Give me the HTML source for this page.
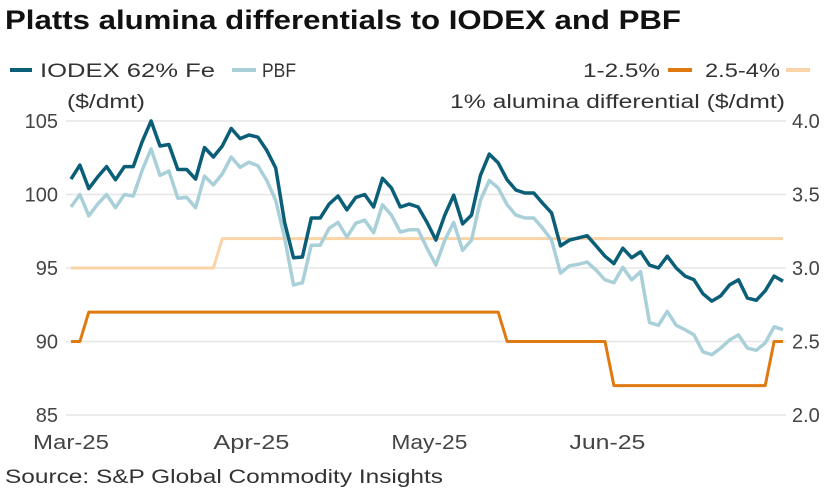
<!DOCTYPE html>
<html><head><meta charset="utf-8"><style>
body{margin:0;background:#fff;width:830px;height:491px;overflow:hidden;font-family:"Liberation Sans",sans-serif;}
svg text{font-family:"Liberation Sans",sans-serif;}
</style></head><body>
<svg id="chart" width="830" height="491">
<text x="5" y="29" font-size="27" font-weight="bold" fill="#111" textLength="676" lengthAdjust="spacingAndGlyphs">Platts alumina differentials to IODEX and PBF</text>
<g>
<line x1="10" y1="70" x2="32" y2="70" stroke="#0b5e78" stroke-width="4"/>
<text x="40" y="77" font-size="19" fill="#333" textLength="175" lengthAdjust="spacingAndGlyphs">IODEX 62% Fe</text>
<line x1="232" y1="70" x2="256" y2="70" stroke="#a9d0d9" stroke-width="4"/>
<text x="262" y="77" font-size="19" fill="#333" textLength="34" lengthAdjust="spacingAndGlyphs">PBF</text>
<text x="583" y="77" font-size="19" fill="#333" textLength="77" lengthAdjust="spacingAndGlyphs">1-2.5%</text>
<line x1="668" y1="70" x2="692" y2="70" stroke="#df7a10" stroke-width="4"/>
<text x="705" y="77" font-size="19" fill="#333" textLength="75" lengthAdjust="spacingAndGlyphs">2.5-4%</text>
<line x1="786" y1="70" x2="810" y2="70" stroke="#fad3a6" stroke-width="4"/>
</g>
<text x="67" y="108" font-size="19" fill="#333" textLength="78" lengthAdjust="spacingAndGlyphs">($/dmt)</text>
<text x="450" y="108" font-size="19" fill="#333" textLength="335" lengthAdjust="spacingAndGlyphs">1% alumina differential ($/dmt)</text>
<g id="grid"></g><g id="series"></g><g id="labels"></g>
<text x="5" y="483" font-size="19" fill="#333" textLength="438" lengthAdjust="spacingAndGlyphs">Source: S&amp;P Global Commodity Insights</text>
</svg>
<script>
const leftTicks=[85,90,95,100,105];
const rightTicks=["2.0","2.5","3.0","3.5","4.0"];
const monthLabels=["Mar-25","Apr-25","May-25","Jun-25"];
const monthIdx=[0,16,36,56];
const iodex=[101.05,102.0,100.4,101.2,101.9,101.0,101.9,101.9,103.6,105.0,103.3,103.4,101.7,101.7,101.05,103.2,102.55,103.3,104.5,103.8,104.05,103.9,103.0,101.8,98.1,95.7,95.75,98.4,98.4,99.35,99.9,98.95,99.8,100.0,99.15,101.1,100.45,99.15,99.35,99.15,98.1,96.9,98.6,99.95,98.0,98.6,101.3,102.75,102.15,101.0,100.3,100.1,100.1,99.4,98.75,96.5,96.9,97.05,97.2,96.5,95.8,95.3,96.35,95.7,96.1,95.2,95.0,95.8,95.0,94.45,94.2,93.25,92.75,93.1,93.85,94.2,92.95,92.8,93.45,94.45,94.1];
const pbf=[99.15,100.0,98.55,99.35,100.0,99.1,100.0,99.9,101.65,103.1,101.3,101.6,99.75,99.8,99.1,101.25,100.65,101.4,102.55,101.85,102.2,101.95,100.95,99.6,97.05,93.85,94.0,96.55,96.55,97.7,98.1,97.1,98.05,98.25,97.4,99.3,98.6,97.45,97.6,97.6,96.35,95.2,96.9,98.1,96.2,96.9,99.6,100.95,100.45,99.3,98.6,98.4,98.4,97.7,96.9,94.65,95.15,95.25,95.4,94.85,94.2,94.0,95.05,94.2,94.75,91.3,91.1,92.05,91.1,90.8,90.45,89.3,89.1,89.55,90.1,90.45,89.55,89.4,89.9,91.0,90.8];
const diffLow=[2.5,2.5,2.7,2.7,2.7,2.7,2.7,2.7,2.7,2.7,2.7,2.7,2.7,2.7,2.7,2.7,2.7,2.7,2.7,2.7,2.7,2.7,2.7,2.7,2.7,2.7,2.7,2.7,2.7,2.7,2.7,2.7,2.7,2.7,2.7,2.7,2.7,2.7,2.7,2.7,2.7,2.7,2.7,2.7,2.7,2.7,2.7,2.7,2.7,2.5,2.5,2.5,2.5,2.5,2.5,2.5,2.5,2.5,2.5,2.5,2.5,2.2,2.2,2.2,2.2,2.2,2.2,2.2,2.2,2.2,2.2,2.2,2.2,2.2,2.2,2.2,2.2,2.2,2.2,2.5,2.5];
const diffHigh=[3.0,3.0,3.0,3.0,3.0,3.0,3.0,3.0,3.0,3.0,3.0,3.0,3.0,3.0,3.0,3.0,3.0,3.2,3.2,3.2,3.2,3.2,3.2,3.2,3.2,3.2,3.2,3.2,3.2,3.2,3.2,3.2,3.2,3.2,3.2,3.2,3.2,3.2,3.2,3.2,3.2,3.2,3.2,3.2,3.2,3.2,3.2,3.2,3.2,3.2,3.2,3.2,3.2,3.2,3.2,3.2,3.2,3.2,3.2,3.2,3.2,3.2,3.2,3.2,3.2,3.2,3.2,3.2,3.2,3.2,3.2,3.2,3.2,3.2,3.2,3.2,3.2,3.2,3.2,3.2,3.2];

const NS="http://www.w3.org/2000/svg";
const X0=71,X1=783,Y85=415,Y105=121;
const n=iodex.length;
function xs(i){return X0+(X1-X0)*i/(n-1);}
function yl(v){return Y85+(v-85)*(Y105-Y85)/20;}
function yr(v){return Y85+(v-2)*(Y105-Y85)/2;}
function mk(tag,attrs,parent){const e=document.createElementNS(NS,tag);for(const k in attrs)e.setAttribute(k,attrs[k]);parent.appendChild(e);return e;}
const grid=document.getElementById('grid'),labels=document.getElementById('labels'),series=document.getElementById('series');
leftTicks.forEach((t,i)=>{
  const y=yl(t);
  const g=mk('line',{x1:66,x2:786,y1:y,y2:y,stroke:'#e6e6e6','stroke-width':1.5},grid);
  
  
  const lt=mk('text',{x:58,y:y+7,'font-size':20,fill:'#444','text-anchor':'end'},labels);
  lt.textContent=t;
  
  
  const rt=mk('text',{x:792,y:y+7,'font-size':20,fill:'#444'},labels);
  rt.textContent=rightTicks[i];
  
  
});
monthLabels.forEach((m,i)=>{
  const t=mk('text',{x:xs(monthIdx[i]) - (i==0?38:0),y:449,'font-size':20,fill:'#444',textLength:76,lengthAdjust:'spacingAndGlyphs'},labels);
  t.textContent=m;
  
  
});
function line(arr,yf,color,w,name){
  const d=arr.map((v,i)=>(i?'L':'M')+xs(i).toFixed(1)+','+yf(v).toFixed(1)).join('');
  const p=mk('path',{d:d,fill:'none',stroke:color,'stroke-width':w,'stroke-linejoin':'round'},series);
  
  
}
line(diffHigh,yr,'#fad3a6',3,'series-2-5-4-pct');
line(diffLow,yr,'#df7a10',3,'series-1-2-5-pct');
line(pbf,yl,'#a9d0d9',3.5,'series-pbf');
line(iodex,yl,'#0b5e78',3.5,'series-iodex');
</script>
</body></html>
